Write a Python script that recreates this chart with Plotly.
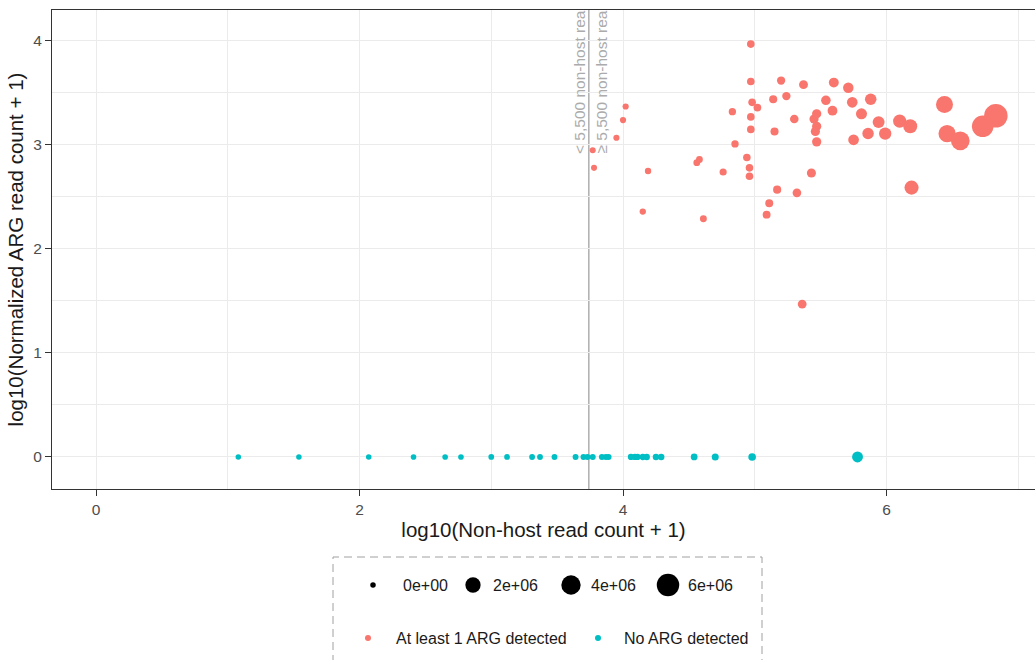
import numpy as np
import plotly.graph_objects as go

# ---------------- data ----------------
arg_x = [3.77, 3.78, 3.95, 4.00, 4.02, 4.19, 4.15, 4.56, 4.58, 4.61,
         4.76, 4.83, 4.85, 4.94, 4.96, 4.96, 4.97, 4.97, 4.97, 4.97,
         4.98, 5.02, 5.09, 5.11, 5.14, 5.15, 5.17, 5.20, 5.24, 5.30,
         5.32, 5.37, 5.36, 5.43, 5.45, 5.47, 5.47, 5.46, 5.47, 5.54,
         5.59, 5.60, 5.71, 5.74, 5.75, 5.81, 5.86, 5.88, 5.94, 5.99,
         6.10, 6.18, 6.19, 6.44, 6.46, 6.56, 6.73, 6.83]
arg_y = [2.95, 2.78, 3.07, 3.24, 3.37, 2.75, 2.36, 2.83, 2.86, 2.29,
         2.74, 3.32, 3.01, 2.88, 2.78, 2.70, 3.97, 3.61, 3.27, 3.15,
         3.41, 3.36, 2.33, 2.44, 3.44, 3.13, 2.57, 3.62, 3.47, 3.25,
         2.54, 3.58, 1.47, 2.73, 3.25, 3.30, 3.18, 3.13, 3.03, 3.43,
         3.33, 3.60, 3.55, 3.41, 3.05, 3.30, 3.11, 3.44, 3.22, 3.11,
         3.23, 3.18, 2.59, 3.39, 3.11, 3.04, 3.18, 3.28]

noarg_x = [1.08, 1.54, 2.07, 2.41, 2.65, 2.77, 3.00, 3.12, 3.31, 3.37,
           3.48, 3.64, 3.70, 3.73, 3.77, 3.84, 3.87, 3.89, 4.06, 4.09,
           4.11, 4.15, 4.18, 4.25, 4.29, 4.54, 4.70, 4.98, 5.78]
noarg_y = [0] * len(noarg_x)

size_legend_values = [0, 2e6, 4e6, 6e6]
size_legend_labels = ["0e+00", "2e+06", "4e+06", "6e+06"]
color_labels = ["At least 1 ARG detected", "No ARG detected"]
threshold_reads = 5500

RED = "#F8766D"
TEAL = "#00BFC4"

# size variable: non-host read count (inverse of the log10(x+1) axis transform)
arg_reads = [10 ** v - 1 for v in arg_x]
noarg_reads = [10 ** v - 1 for v in noarg_x]
vmax = max(arg_reads + noarg_reads)


def diam(v):
    return (5.5 + 18.0 * np.sqrt(np.asarray(v, dtype=float) / vmax)).tolist()


fig = go.Figure()

fig.add_trace(go.Scatter(x=noarg_x, y=noarg_y, mode="markers",
                         marker=dict(color=TEAL, size=diam(noarg_reads), opacity=1, line=dict(width=0)),
                         showlegend=False, cliponaxis=True))
fig.add_trace(go.Scatter(x=arg_x, y=arg_y, mode="markers",
                         marker=dict(color=RED, size=diam(arg_reads), opacity=1, line=dict(width=0)),
                         showlegend=False, cliponaxis=True))

# ---------------- manual legend (x2/y2 in pixel-like units) ----------------
size_key_x = [373, 473, 571, 668]
size_text_x = [401, 491, 589, 686]
fig.add_trace(go.Scatter(x=size_key_x, y=[585] * 4, mode="markers", xaxis="x2", yaxis="y2",
                         marker=dict(color="black", size=diam(size_legend_values), opacity=1,
                                     line=dict(width=0)),
                         showlegend=False, hoverinfo="skip"))
fig.add_trace(go.Scatter(x=[368, 598], y=[638, 638], mode="markers", xaxis="x2", yaxis="y2",
                         marker=dict(color=[RED, TEAL], size=6, opacity=1, line=dict(width=0)),
                         showlegend=False, hoverinfo="skip"))

annotations = []
for tx, lab in zip(size_text_x, size_legend_labels):
    annotations.append(dict(x=tx, y=585, xref="x2", yref="y2", text=lab, showarrow=False,
                            xanchor="left", yanchor="middle",
                            font=dict(size=16, color="#1A1A1A")))
for tx, lab in zip([394, 622], color_labels):
    annotations.append(dict(x=tx, y=638, xref="x2", yref="y2", text=lab, showarrow=False,
                            xanchor="left", yanchor="middle",
                            font=dict(size=16, color="#1A1A1A")))

thr = float(np.log10(threshold_reads))
annotations.append(dict(x=3.666, y=2.894, xref="x", yref="y", text="< 5,500 non-host rea",
                        textangle=-90, showarrow=False, xanchor="center", yanchor="bottom",
                        font=dict(size=15.5, color="#ABABAB")))
annotations.append(dict(x=3.833, y=2.894, xref="x", yref="y", text="\u2265 5,500 non-host rea",
                        textangle=-90, showarrow=False, xanchor="center", yanchor="bottom",
                        font=dict(size=15.5, color="#ABABAB")))

shapes = [
    dict(type="line", xref="x", yref="paper", x0=thr, x1=thr, y0=171 / 650, y1=1,
         line=dict(color="#B3B3B3", width=1.6), layer="below"),
    dict(type="rect", xref="paper", yref="paper",
         x0=(333 - 52) / 983, x1=(762 - 52) / 983,
         y0=-20 / 650, y1=(660 - 557) / 650,
         line=dict(color="#A0A0A0", width=1, dash="8px,5px"), fillcolor="rgba(0,0,0,0)",
         layer="above"),
]

fig.update_layout(
    width=1035, height=660,
    margin=dict(l=52, r=0, t=10, b=0),
    paper_bgcolor="white", plot_bgcolor="white",
    font=dict(family="Arial, Liberation Sans, sans-serif", color="#1A1A1A"),
    showlegend=False,
    annotations=annotations,
    shapes=shapes,
    xaxis=dict(domain=[0, 1], anchor="y", range=[-0.334, 7.127],
               tickvals=[0, 2, 4, 6], ticktext=["0", "2", "4", "6"],
               showgrid=True, gridcolor="#EBEBEB", gridwidth=1.2,
               minor=dict(tickvals=[1, 3, 5, 7], showgrid=True, gridcolor="#EBEBEB", gridwidth=0.8, ticks=""),
               zeroline=False, showline=True, linecolor="#333333", linewidth=1.3, mirror=True,
               ticks="outside", ticklen=6, tickwidth=1.2, tickcolor="#333333",
               tickfont=dict(size=15.5, color="#4D4D4D"),
               title=dict(text="log10(Non-host read count + 1)", font=dict(size=20.5, color="#1A1A1A"),
                          standoff=1),
               automargin=False),
    yaxis=dict(domain=[171 / 650, 1], anchor="x", range=[-0.308, 4.298],
               tickvals=[0, 1, 2, 3, 4], ticktext=["0", "1", "2", "3", "4"],
               showgrid=True, gridcolor="#EBEBEB", gridwidth=1.2,
               minor=dict(tickvals=[0.5, 1.5, 2.5, 3.5], showgrid=True, gridcolor="#EBEBEB", gridwidth=0.8, ticks=""),
               zeroline=False, showline=True, linecolor="#333333", linewidth=1.3, mirror=False,
               ticks="outside", ticklen=6, tickwidth=1.2, tickcolor="#333333",
               tickfont=dict(size=15.5, color="#4D4D4D"),
               title=dict(text="log10(Normalized ARG read count + 1)", font=dict(size=20.5, color="#1A1A1A"),
                          standoff=3),
               automargin=False),
    xaxis2=dict(domain=[0, 1], anchor="y2", range=[52, 1035], visible=False, fixedrange=True),
    yaxis2=dict(domain=[0, 120 / 650], anchor="x2", range=[660, 540], visible=False, fixedrange=True),
)

fig.write_html("out.html")
